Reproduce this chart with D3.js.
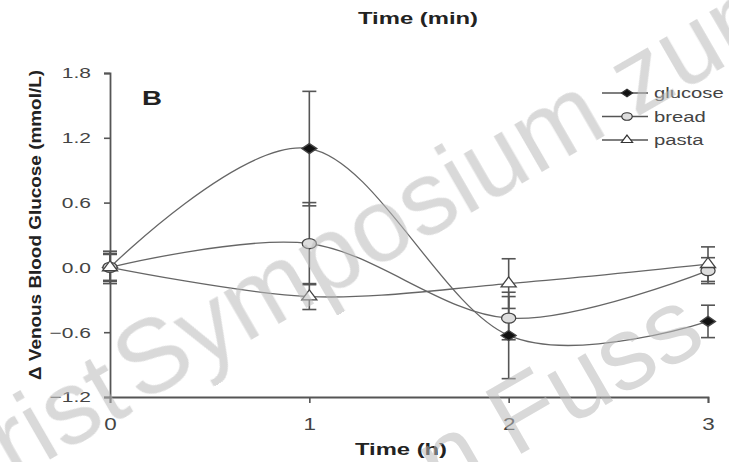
<!DOCTYPE html>
<html>
<head>
  <meta charset="utf-8">
  <script src="https://d3js.org/d3.v7.min.js"></script>
  <style>
    body { margin: 0; background: #fff; }
    svg { font-family: "Liberation Sans", Arial, sans-serif; }
  </style>
</head>
<body>
<div id="chart"></div>
<script>
  // values (change vs baseline, mmol/L)
  const times = [0, 1, 2, 3];
  const seriesNames = ["glucose", "bread", "pasta"];
  const glucose = [0, 1.1, -0.63, -0.5];
  const glucoseErr = [0.15, 0.53, 0.4, 0.15];
  const bread = [0, 0.22, -0.47, -0.03];
  const breadErr = [0.13, 0.38, 0.2, 0.12];
  const pasta = [0, -0.27, -0.15, 0.03];
  const pastaErr = [0.12, 0.12, 0.23, 0.16];
  const yTicks = [1.8, 1.2, 0.6, 0.0, -0.6, -1.2];

  const W = 729, H = 462;
  const SX = 1.4; // the source figure is stretched sideways
  const svg = d3.select("#chart").append("svg")
    .attr("width", W).attr("height", H);

  const x = d3.scaleLinear().domain([0, 3]).range([110, 708]);
  const y = d3.scaleLinear().domain([-1.2, 1.8]).range([397, 73]);

  const axisColor = "#555";

  const xAxis = svg.append("g")
    .attr("transform", `translate(0,${y(-1.2)})`)
    .call(d3.axisBottom(x).tickValues(times).tickFormat(d3.format("d")).tickSizeOuter(0).tickSize(6).tickPadding(16));
  const yAxis = svg.append("g")
    .attr("transform", `translate(${x(0)},0)`)
    .call(d3.axisLeft(y).tickValues(yTicks).tickFormat(d3.format(".1f")).tickSizeOuter(0).tickSize(6));
  [xAxis, yAxis].forEach(a => {
    a.select(".domain").attr("stroke", axisColor).attr("stroke-width", 1.8);
    a.selectAll(".tick line").attr("stroke", axisColor).attr("stroke-width", 1.6);
    a.selectAll(".tick text").attr("fill", "#444").style("font-size", "15px")
      .style("font-family", "Liberation Sans, Arial, sans-serif");
  });
  xAxis.selectAll(".tick text").style("font-size", "16px")
    .attr("transform", `scale(${SX},1)`);
  yAxis.selectAll(".tick text").attr("x", 0)
    .attr("transform", `translate(-19,0) scale(${SX},1)`);

  // axis titles
  svg.append("text").attr("x", 401).attr("y", 455)
    .attr("text-anchor", "middle").attr("fill", "#222")
    .attr("textLength", 92).attr("lengthAdjust", "spacingAndGlyphs")
    .style("font-size", "16px").style("font-weight", "bold")
    .text("Time (h)");
  svg.append("text").attr("x", 418).attr("y", 24)
    .attr("text-anchor", "middle").attr("fill", "#222")
    .attr("textLength", 120).attr("lengthAdjust", "spacingAndGlyphs")
    .style("font-size", "16px").style("font-weight", "bold")
    .text("Time (min)");
  svg.append("text")
    .attr("transform", "translate(41,225) rotate(-90)")
    .attr("text-anchor", "middle").attr("fill", "#222")
    .attr("textLength", 310).attr("lengthAdjust", "spacingAndGlyphs")
    .style("font-size", "16px").style("font-weight", "bold")
    .text("\u0394 Venous Blood Glucose (mmol/L)");
  svg.append("text").attr("x", 142).attr("y", 105)
    .attr("fill", "#222").attr("textLength", 20).attr("lengthAdjust", "spacingAndGlyphs")
    .style("font-size", "20px").style("font-weight", "bold")
    .text("B");

  const series = [
    { name: seriesNames[0], vals: glucose, err: glucoseErr, shape: d3.symbolSquare, size: 50, rot: 45, sx: 1.5, fill: "#111" },
    { name: seriesNames[1], vals: bread, err: breadErr, shape: d3.symbolCircle, size: 80, rot: 0, sx: 1.4, fill: "#ddd" },
    { name: seriesNames[2], vals: pasta, err: pastaErr, shape: d3.symbolTriangle, size: 58, rot: 0, sx: 1.3, fill: "#fff" }
  ];

  const line = d3.line().x(d => x(d.t)).y(d => y(d.v)).curve(d3.curveCatmullRom.alpha(0));
  const lineColor = "#666";

  series.forEach(s => {
    const pts = times.map((t, i) => ({ t: t, v: s.vals[i], e: s.err[i] }));
    svg.append("path").datum(pts)
      .attr("d", line).attr("fill", "none")
      .attr("stroke", lineColor).attr("stroke-width", 1.3);

    const eb = svg.append("g").attr("stroke", "#555").attr("stroke-width", 1.6);
    pts.forEach(p => {
      eb.append("line").attr("x1", x(p.t)).attr("x2", x(p.t))
        .attr("y1", y(p.v + p.e)).attr("y2", y(p.v - p.e));
      [p.v + p.e, p.v - p.e].forEach(v => {
        eb.append("line").attr("x1", x(p.t) - 7).attr("x2", x(p.t) + 7)
          .attr("y1", y(v)).attr("y2", y(v));
      });
    });
  });

  series.forEach(s => {
    svg.append("g").selectAll("path")
      .data(times.map((t, i) => ({ t: t, v: s.vals[i] })))
      .join("path")
      .attr("transform", d => `translate(${x(d.t)},${y(d.v)}) scale(${s.sx},1) rotate(${s.rot})`)
      .attr("d", d3.symbol().type(s.shape).size(s.size))
      .attr("vector-effect", "non-scaling-stroke")
      .attr("fill", s.fill).attr("stroke", "#444").attr("stroke-width", 1.3);
  });

  // legend
  const lg = svg.append("g").attr("transform", "translate(602,93)");
  series.forEach((s, i) => {
    const g = lg.append("g").attr("transform", `translate(0,${i * 23.5})`);
    g.append("line").attr("x1", 0).attr("x2", 46).attr("y1", 0).attr("y2", 0)
      .attr("stroke", "#555").attr("stroke-width", 1.3);
    g.append("path").attr("transform", `translate(25,0) scale(${s.sx},1) rotate(${s.rot})`)
      .attr("d", d3.symbol().type(s.shape).size(s.size * 0.55))
      .attr("vector-effect", "non-scaling-stroke")
      .attr("fill", s.fill).attr("stroke", "#333").attr("stroke-width", 1.2);
    g.append("text").attr("x", 0).attr("y", 0)
      .attr("transform", `translate(52,5) scale(1.35,1)`)
      .attr("fill", "#444").style("font-size", "15px").text(s.name);
  });

  // watermark drawn over the figure, half transparent
  const wm = svg.append("g").attr("fill", "#bbb").attr("opacity", 0.55)
    .style("font-size", "104px");
  wm.append("text").attr("text-anchor", "end")
    .attr("transform", "translate(134,411) rotate(-30)").text("Christ");
  wm.append("text")
    .attr("transform", "translate(140,404) rotate(-30)").text("Symposium zum");
  wm.append("text").attr("text-anchor", "end")
    .attr("transform", "translate(492,472) rotate(-30)").text("n");
  wm.append("text")
    .attr("transform", "translate(514,458) rotate(-30)").text("Fuss");
</script>
</body>
</html>
